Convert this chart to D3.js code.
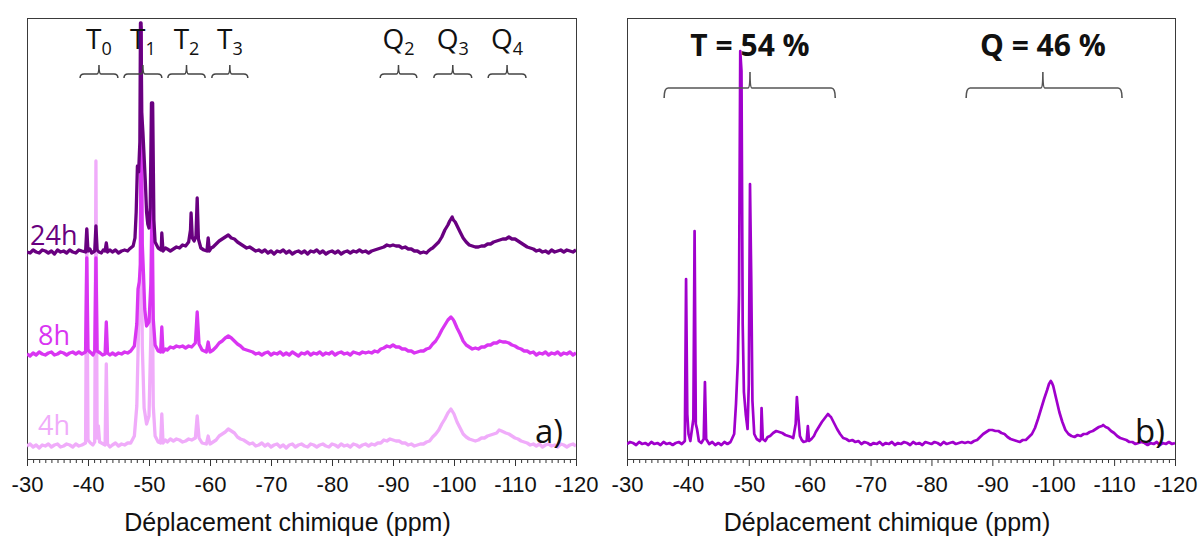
<!DOCTYPE html>
<html><head><meta charset="utf-8">
<script src="https://cdn.jsdelivr.net/npm/d3@7"></script>
<style>
html,body{margin:0;padding:0;background:#fff;}
svg{display:block;}
</style></head>
<body>
<svg id="chart" width="1200" height="538"></svg>
<script>
// ---------------- DATA ----------------
const xTicks = [-30,-40,-50,-60,-70,-80,-90,-100,-110,-120];
const xTitle = "Déplacement chimique (ppm)";
const seriesNamesA = ["4h","8h","24h"];
const stackOffsetsA = [13,105,207];   // baseline of each stacked spectrum (intensity units)
const bracketsA = [
  {main:"T",sub:"0",from:-38.7,to:-44.9},
  {main:"T",sub:"1",from:-45.9,to:-52.1},
  {main:"T",sub:"2",from:-53.1,to:-59.2},
  {main:"T",sub:"3",from:-60.3,to:-66.2},
  {main:"Q",sub:"2",from:-87.9,to:-93.9},
  {main:"Q",sub:"3",from:-96.7,to:-102.9},
  {main:"Q",sub:"4",from:-105.6,to:-111.8}
];
const bracketsB = [
  {label:"T = 54 %",from:-36.1,to:-64.2,mid:-50.2},
  {label:"Q = 46 %",from:-85.7,to:-111.3,mid:-98.3}
];
const offsetB = 15;

const spectrum4h = [[-30,0],[-30.5,2],[-31,-1],[-31.5,1],[-32,-2],[-32.5,1],[-33,0],[-33.5,2],[-34,-1],[-34.5,1],[-35,2],[-35.5,-1],[-36,0],[-36.5,2],[-37,1],[-37.5,-1],[-38,2],[-38.5,0],[-39,1],[-39.6,3],[-39.8,217],[-40,6],[-40.4,3],[-40.8,1],[-41.1,4],[-41.3,285],[-41.5,8],[-41.7,20],[-41.9,4],[-42.5,2],[-42.8,1],[-43,82],[-43.2,2],[-43.6,-1],[-44,1],[-44.5,3],[-45,0],[-45.5,2],[-46,1],[-46.5,3],[-47,3],[-47.6,10],[-48,40],[-48.3,120],[-48.5,150],[-48.7,300],[-48.9,100],[-49.2,38],[-49.6,22],[-50,30],[-50.3,110],[-50.5,200],[-50.7,40],[-51,10],[-51.5,4],[-51.9,3],[-52.1,32],[-52.3,3],[-52.7,6],[-53,4],[-53.5,7],[-54,5],[-54.5,7],[-55,6],[-55.5,4],[-56,5],[-56.5,7],[-57,6],[-57.6,8],[-57.9,30],[-58.2,8],[-58.7,3],[-59.4,2],[-59.7,10],[-60,2],[-60.5,4],[-61,6],[-61.5,10],[-62,12],[-62.5,14],[-63,17],[-63.5,15],[-64,13],[-64.5,9],[-65,7],[-65.5,6],[-66,4],[-66.5,2],[-67,3],[-67.5,0],[-68,1],[-68.5,3],[-69,0],[-69.5,2],[-70,-1],[-70.5,1],[-71,2],[-71.5,-1],[-72,1],[-72.5,-2],[-73,1],[-73.5,2],[-74,-1],[-74.5,1],[-75,2],[-75.5,0],[-76,-1],[-76.5,2],[-77,1],[-77.5,-1],[-78,1],[-78.5,2],[-79,0],[-79.5,-1],[-80,2],[-80.5,1],[-81,-1],[-81.5,2],[-82,0],[-82.5,1],[-83,-1],[-83.5,2],[-84,1],[-84.5,-1],[-85,1],[-85.5,2],[-86,0],[-86.5,2],[-87,1],[-87.5,3],[-88,3],[-88.5,6],[-89,5],[-89.5,7],[-90,6],[-90.5,5],[-91,5],[-91.5,3],[-92,3],[-92.5,1],[-93,2],[-93.5,0],[-94,1],[-94.5,2],[-95,2],[-95.5,4],[-96,5],[-96.5,9],[-97,12],[-97.5,16],[-98,22],[-98.5,27],[-99,33],[-99.5,37],[-99.8,34],[-100,32],[-100.5,24],[-101,18],[-101.5,12],[-102,9],[-102.5,7],[-103,6],[-103.5,5],[-104,6],[-104.5,8],[-105,8],[-105.5,10],[-106,11],[-106.5,12],[-107,13],[-107.4,16],[-107.8,15],[-108.5,13],[-109,12],[-109.5,10],[-110,8],[-110.5,7],[-111,5],[-111.5,4],[-112,3],[-112.5,1],[-113,2],[-113.5,0],[-114,2],[-114.5,-1],[-115,1],[-115.5,2],[-116,0],[-116.5,1],[-117,-1],[-117.5,2],[-118,1],[-118.5,-1],[-119,1],[-119.5,2],[-120,0]];

const spectrum8h = [[-30,0],[-30.5,-2],[-31,1],[-31.5,-1],[-32,2],[-32.5,0],[-33,-1],[-33.5,1],[-34,2],[-34.5,-1],[-35,0],[-35.5,2],[-36,1],[-36.5,-1],[-37,1],[-37.5,2],[-38,0],[-38.5,2],[-39,0],[-39.6,2],[-39.8,96],[-40,4],[-40.5,1],[-40.8,-1],[-41.1,3],[-41.3,96],[-41.5,3],[-42,1],[-42.4,-1],[-42.8,0],[-43,32],[-43.2,1],[-43.6,-1],[-44,1],[-44.5,-1],[-45,1],[-45.5,0],[-46,2],[-46.5,1],[-47,3],[-47.6,8],[-48,30],[-48.2,65],[-48.4,72],[-48.6,90],[-48.7,327],[-48.9,110],[-49.1,80],[-49.3,45],[-49.6,28],[-50,32],[-50.3,70],[-50.5,154],[-50.7,35],[-51,9],[-51.5,3],[-51.9,2],[-52.1,27],[-52.3,2],[-52.7,5],[-53,4],[-53.5,7],[-54,6],[-54.5,8],[-55,7],[-55.5,8],[-56,6],[-56.5,8],[-57,7],[-57.6,11],[-57.9,42],[-58.2,10],[-58.7,4],[-59.4,2],[-59.7,12],[-60,2],[-60.5,4],[-61,7],[-61.5,11],[-62,13],[-62.5,16],[-63,18],[-63.5,16],[-64,13],[-64.5,10],[-65,8],[-65.5,5],[-66,4],[-66.5,3],[-67,2],[-67.5,0],[-68,1],[-68.5,-1],[-69,1],[-69.5,2],[-70,-1],[-70.5,1],[-71,0],[-71.5,2],[-72,-1],[-72.5,1],[-73,-1],[-73.5,2],[-74,0],[-74.5,-2],[-75,1],[-75.5,0],[-76,2],[-76.5,-1],[-77,1],[-77.5,0],[-78,2],[-78.5,-1],[-79,1],[-79.5,0],[-80,2],[-80.5,-1],[-81,1],[-81.5,2],[-82,0],[-82.5,1],[-83,-1],[-83.5,2],[-84,1],[-84.5,0],[-85,2],[-85.5,1],[-86,2],[-86.5,1],[-87,3],[-87.5,2],[-88,5],[-88.5,6],[-89,8],[-89.5,7],[-90,9],[-90.5,7],[-91,7],[-91.5,5],[-92,5],[-92.5,3],[-93,3],[-93.5,1],[-94,2],[-94.5,3],[-95,3],[-95.5,5],[-96,6],[-96.5,10],[-97,13],[-97.5,18],[-98,24],[-98.5,29],[-99,34],[-99.5,37],[-99.8,35],[-100,33],[-100.5,26],[-101,20],[-101.5,13],[-102,9],[-102.5,7],[-103,5],[-103.5,6],[-104,5],[-104.5,7],[-105,7],[-105.5,9],[-106,9],[-106.5,11],[-107,11],[-107.5,13],[-108,12],[-108.5,12],[-109,11],[-109.5,9],[-110,8],[-110.5,6],[-111,5],[-111.5,3],[-112,3],[-112.5,1],[-113,2],[-113.5,-1],[-114,1],[-114.5,0],[-115,2],[-115.5,-1],[-116,1],[-116.5,0],[-117,2],[-117.5,-1],[-118,1],[-118.5,0],[-119,2],[-119.5,-1],[-120,1]];

const spectrum24h = [[-30,0],[-30.5,-1],[-31,2],[-31.5,0],[-32,-1],[-32.5,2],[-33,1],[-33.5,-1],[-34,1],[-34.5,-2],[-35,2],[-35.5,0],[-36,1],[-36.5,-1],[-37,2],[-37.5,0],[-38,-1],[-38.5,2],[-39,1],[-39.6,0],[-39.8,23],[-40,1],[-40.3,3],[-40.6,-1],[-41.1,1],[-41.3,26],[-41.5,2],[-41.8,0],[-42.2,-1],[-42.5,2],[-42.8,1],[-43,9],[-43.2,0],[-43.6,2],[-44,0],[-44.5,2],[-45,-1],[-45.5,1],[-46,2],[-46.5,1],[-46.8,3],[-47.4,6],[-47.7,14],[-47.9,40],[-48.1,86],[-48.3,80],[-48.5,110],[-48.6,229],[-48.7,229],[-48.8,140],[-49,120],[-49.2,95],[-49.4,70],[-49.6,40],[-49.8,28],[-50,24],[-50.2,45],[-50.4,149],[-50.6,149],[-50.8,32],[-51,10],[-51.5,4],[-52,2],[-52.1,19],[-52.3,1],[-52.7,4],[-53,3],[-53.5,1],[-54,3],[-54.5,5],[-55,4],[-55.5,7],[-56,6],[-56.5,10],[-56.8,22],[-56.9,39],[-57.1,14],[-57.4,11],[-57.7,16],[-57.9,54],[-58.1,13],[-58.5,4],[-59,2],[-59.5,1],[-59.7,14],[-59.9,1],[-60.2,4],[-60.5,5],[-61,8],[-61.5,11],[-62,13],[-62.5,15],[-63,17],[-63.5,14],[-64,13],[-64.5,10],[-65,8],[-65.5,6],[-66,4],[-66.5,5],[-67,3],[-67.5,1],[-68,2],[-68.5,0],[-69,2],[-69.5,-1],[-70,1],[-70.5,-2],[-71,1],[-71.5,0],[-72,2],[-72.5,-1],[-73,1],[-73.5,-2],[-74,0],[-74.5,1],[-75,-1],[-75.5,1],[-76,-2],[-76.5,1],[-77,0],[-77.5,2],[-78,-1],[-78.5,1],[-79,-2],[-79.5,0],[-80,1],[-80.5,-1],[-81,1],[-81.5,-2],[-82,0],[-82.5,1],[-83,-1],[-83.5,1],[-84,0],[-84.5,2],[-85,0],[-85.5,1],[-86,-1],[-86.5,1],[-87,2],[-87.5,3],[-88,4],[-88.5,5],[-89,7],[-89.5,6],[-90,7],[-90.5,6],[-91,6],[-91.5,4],[-92,5],[-92.5,3],[-93,3],[-93.5,1],[-94,1],[-94.5,-1],[-95,0],[-95.5,-1],[-95.8,1],[-96.2,3],[-96.5,4],[-97,7],[-97.5,10],[-98,15],[-98.5,22],[-99,27],[-99.3,31],[-99.7,35],[-99.9,32],[-100.2,30],[-100.6,25],[-101,20],[-101.5,14],[-102,10],[-102.5,7],[-103,6],[-103.5,5],[-104,5],[-104.5,6],[-105,6],[-105.5,8],[-106,8],[-106.5,10],[-107,11],[-107.5,12],[-108,13],[-108.5,13],[-109,15],[-109.5,13],[-110,13],[-110.5,11],[-111,9],[-111.5,7],[-112,5],[-112.5,4],[-113,3],[-113.5,1],[-114,2],[-114.5,0],[-115,1],[-115.5,-1],[-116,2],[-116.5,0],[-117,1],[-117.5,2],[-118,0],[-118.5,2],[-119,1],[-119.5,0],[-120,2]];

const spectrumB = [[-30,0],[-30.5,2],[-31,1],[-31.5,-1],[-32,2],[-32.5,0],[-33,1],[-33.5,-1],[-34,2],[-34.5,0],[-35,1],[-35.5,-1],[-36,2],[-36.5,0],[-37,1],[-37.5,-1],[-38,1],[-38.5,2],[-39,0],[-39.5,3],[-39.7,165],[-39.9,30],[-40.1,10],[-40.4,3],[-40.9,25],[-41.1,213],[-41.3,20],[-41.5,15],[-41.8,3],[-42.2,1],[-42.6,5],[-42.8,62],[-43,5],[-43.5,0],[-44,2],[-44.5,-1],[-45,1],[-45.5,-1],[-46,2],[-46.5,0],[-47,2],[-47.6,10],[-47.9,40],[-48.2,82],[-48.4,150],[-48.6,393],[-48.8,373],[-49,120],[-49.2,52],[-49.5,30],[-49.8,15],[-50,60],[-50.2,260],[-50.4,167],[-50.6,43],[-50.9,10],[-51.3,5],[-51.8,3],[-52,5],[-52.1,36],[-52.3,5],[-52.7,3],[-53.1,7],[-53.5,8],[-54,11],[-54.5,13],[-55,12],[-55.5,11],[-56,9],[-56.5,8],[-57,7],[-57.3,6],[-57.7,20],[-57.9,47],[-58.1,30],[-58.4,8],[-58.7,4],[-59,2],[-59.5,3],[-59.7,18],[-59.9,3],[-60.3,5],[-60.7,8],[-61,12],[-61.5,17],[-62,22],[-62.5,26],[-63,30],[-63.3,28],[-63.5,27],[-64,21],[-64.5,15],[-65,10],[-65.5,6],[-66,5],[-66.5,3],[-67,4],[-67.5,2],[-68,3],[-68.5,0],[-69,2],[-69.5,1],[-70,-1],[-70.5,1],[-71,0],[-71.5,2],[-72,-1],[-72.5,1],[-73,0],[-73.5,2],[-74,-1],[-74.5,1],[-75,0],[-75.5,2],[-76,1],[-76.5,-1],[-77,2],[-77.5,0],[-78,1],[-78.5,-1],[-79,2],[-79.5,1],[-80,0],[-80.5,2],[-81,1],[-81.5,-1],[-82,2],[-82.5,0],[-83,1],[-83.5,2],[-84,0],[-84.5,1],[-85,2],[-85.5,1],[-86,2],[-86.5,1],[-87,3],[-87.5,4],[-88,7],[-88.5,10],[-89,12],[-89.5,14],[-90,14],[-90.5,13],[-91,13],[-91.5,11],[-92,10],[-92.5,7],[-93,5],[-93.5,4],[-94,3],[-94.5,2],[-95,4],[-95.5,4],[-96,7],[-96.5,10],[-97,16],[-97.5,25],[-98,35],[-98.5,45],[-99,54],[-99.3,60],[-99.6,63],[-99.8,61],[-100,58],[-100.5,45],[-101,32],[-101.5,22],[-102,14],[-102.5,10],[-103,8],[-103.5,7],[-104,9],[-104.5,8],[-105,10],[-105.5,10],[-106,12],[-106.5,13],[-107,15],[-107.5,17],[-108,18],[-108.2,19],[-108.6,17],[-109,16],[-109.5,13],[-110,11],[-110.5,8],[-111,6],[-111.5,5],[-112,4],[-112.5,2],[-113,2],[-113.5,0],[-114,1],[-114.5,2],[-115,1],[-115.5,-1],[-116,1],[-116.5,0],[-117,2],[-117.5,-1],[-118,1],[-118.5,0],[-119,2],[-119.5,0],[-120,1]];

// ---------------- STYLE / LAYOUT ----------------
const colorsA = {"4h":"#f0acfa","8h":"#d935f2","24h":"#690080"};
const colorB = "#a000cc";
const panels = [{x0:27,x1:576},{x0:627,x1:1175}];
const yTop = 18, yBot = 459;

const svg = d3.select("#chart");

function drawPanel(p, idx){
  const x = d3.scaleLinear().domain([-30,-120]).range([p.x0,p.x1]);
  const y = d3.scaleLinear().domain([0,441]).range([yBot,yTop]);
  const g = svg.append("g");
  const clipId = "clip"+idx;
  svg.append("clipPath").attr("id",clipId).append("rect")
     .attr("x",p.x0).attr("y",yTop).attr("width",p.x1-p.x0).attr("height",yBot-yTop);

  // axis
  const minor = d3.range(-30,-121,-1).filter(v=>v%10!==0);
  g.append("g").attr("transform",`translate(0,${yBot})`)
    .call(d3.axisBottom(x).tickValues(minor).tickSize(4).tickFormat(""))
    .call(a=>a.select(".domain").remove())
    .call(a=>a.selectAll("line").attr("stroke","#333").attr("stroke-width",1));
  const ax = g.append("g").attr("transform",`translate(0,${yBot})`)
    .call(d3.axisBottom(x).tickValues(xTicks).tickSize(7).tickPadding(10).tickFormat(d=>String(d)));
  ax.select(".domain").remove();
  ax.selectAll("line").attr("stroke","#333").attr("stroke-width",1);
  ax.selectAll("text").attr("font-family","Liberation Sans, Arial, sans-serif")
    .attr("font-size",22).attr("fill","#111");

  // frame
  g.append("rect").attr("x",p.x0+0.5).attr("y",yTop+0.5)
    .attr("width",p.x1-p.x0).attr("height",yBot-yTop)
    .attr("fill","none").attr("stroke","#3a3a3a").attr("stroke-width",1);

  // axis title
  g.append("text").attr("x",(p.x0+p.x1)/2-14).attr("y",531)
    .attr("text-anchor","middle").attr("font-family","Liberation Sans, Arial, sans-serif")
    .attr("font-size",25).attr("fill","#111").text(xTitle);
  return {x,y,g,clipId};
}

// Panel a
const A = drawPanel(panels[0],0);
const seriesA = {"4h":spectrum4h,"8h":spectrum8h,"24h":spectrum24h};
seriesNamesA.forEach((name,i)=>{
  const off = stackOffsetsA[i];
  const line = d3.line().x(d=>A.x(d[0])).y(d=>A.y(d[1]+off)).curve(d3.curveLinear);
  A.g.append("path").datum(seriesA[name]).attr("clip-path",`url(#${A.clipId})`)
    .attr("d",line).attr("fill","none").attr("stroke",colorsA[name])
    .attr("stroke-width",3.3).attr("stroke-linejoin","round");
});
const seriesLabelPos = {"24h":[30,245],"8h":[38,345],"4h":[38,435]};
seriesNamesA.forEach(name=>{
  A.g.append("text").attr("x",seriesLabelPos[name][0]).attr("y",seriesLabelPos[name][1])
    .attr("font-family","Open Sans, sans-serif").attr("font-size",27)
    .attr("fill",colorsA[name]).text(name);
});
// brackets
function bracketPath(x1,x2,xm,yh,endDrop,tip){
  const r = Math.min(4, Math.abs(x2-x1)/4);
  return `M${x1},${yh+endDrop} Q${x1},${yh} ${x1+r},${yh} L${xm-2},${yh} Q${xm},${yh} ${xm},${yh-tip} ` +
         `M${xm},${yh-tip} Q${xm},${yh} ${xm+2},${yh} L${x2-r},${yh} Q${x2},${yh} ${x2},${yh+endDrop}`;
}
bracketsA.forEach(b=>{
  const x1=A.x(b.from), x2=A.x(b.to), xm=(x1+x2)/2;
  A.g.append("path").attr("d",bracketPath(x1,x2,xm,74,4,9))
    .attr("fill","none").attr("stroke","#444").attr("stroke-width",1.5);
  const t = A.g.append("text").attr("x",xm).attr("y",49).attr("text-anchor","middle")
    .attr("font-family","Open Sans, sans-serif").attr("fill","#111");
  t.append("tspan").attr("font-size",28).text(b.main);
  t.append("tspan").attr("font-size",18).attr("dy",6).text(b.sub);
});
A.g.append("text").attr("x",535).attr("y",443).attr("font-family","Open Sans, sans-serif")
  .attr("font-size",33).attr("fill","#111").text("a)");

// Panel b
const B = drawPanel(panels[1],1);
const lineB = d3.line().x(d=>B.x(d[0])).y(d=>B.y(d[1]+offsetB));
B.g.append("path").datum(spectrumB).attr("clip-path",`url(#${B.clipId})`)
  .attr("d",lineB).attr("fill","none").attr("stroke",colorB)
  .attr("stroke-width",2.7).attr("stroke-linejoin","round");
bracketsB.forEach(b=>{
  const x1=B.x(b.from), x2=B.x(b.to), xm=B.x(b.mid);
  B.g.append("path").attr("d",bracketPath(x1,x2,xm,88,10,16))
    .attr("fill","none").attr("stroke","#555").attr("stroke-width",1.6);
  B.g.append("text").attr("x",xm).attr("y",56).attr("text-anchor","middle")
    .attr("font-family","Open Sans, sans-serif").attr("font-weight","bold")
    .attr("font-size",30).attr("fill","#111").text(b.label);
});
B.g.append("text").attr("x",1135).attr("y",443).attr("font-family","Open Sans, sans-serif")
  .attr("font-size",33).attr("fill","#111").text("b)");
</script>
</body></html>
